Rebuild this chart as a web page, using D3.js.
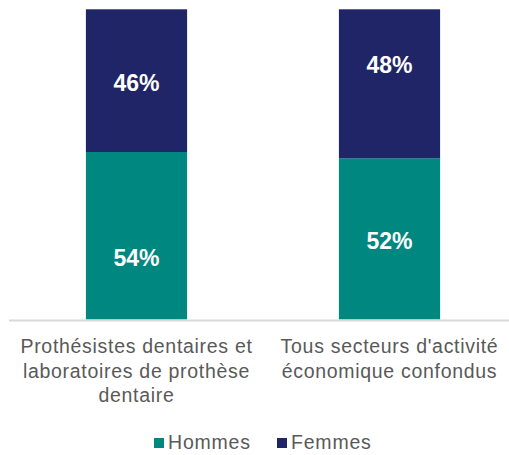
<!DOCTYPE html>
<html>
<head>
<meta charset="utf-8">
<script src="https://cdn.jsdelivr.net/npm/d3@7"></script>
<style>
  body { margin: 0; background: #fff; }
  svg { display: block; font-family: "Liberation Sans", Arial, sans-serif; }
</style>
</head>
<body>
<div id="chart"></div>
<script>
const categories = [
  ['Prothésistes dentaires et', 'laboratoires de prothèse', 'dentaire'],
  ["Tous secteurs d'activité", 'économique confondus']
];
const hommes = [54, 52];
const femmes = [46, 48];
const seriesNames = ['Hommes', 'Femmes'];
const colors = ['#00877f', '#1f2566'];

const width = 509;
const height = 455;

const svg = d3.select('#chart').append('svg')
  .attr('width', width)
  .attr('height', height);

const x = d3.scaleBand()
  .domain([0, 1])
  .range([10, 516])
  .paddingInner(0.6)
  .paddingOuter(0.3);

const y = d3.scaleLinear()
  .domain([0, 100])
  .range([319.5, 9.3]);

const rows = categories.map((c, i) => ({ i, Hommes: hommes[i], Femmes: femmes[i] }));
const stack = d3.stack().keys(seriesNames)(rows);

// label nudges (px) to follow the reference placement
const labelShift = [[22, 2], [2, -18.5]];

stack.forEach((layer, k) => {
  svg.selectAll('.seg' + k)
    .data(layer)
    .enter()
    .append('rect')
    .attr('x', (d) => x(d.data.i))
    .attr('width', x.bandwidth())
    .attr('y', (d) => y(d[1]))
    .attr('height', (d) => y(d[0]) - y(d[1]))
    .attr('fill', colors[k]);

  svg.selectAll('.lab' + k)
    .data(layer)
    .enter()
    .append('text')
    .attr('x', (d) => x(d.data.i) + x.bandwidth() / 2)
    .attr('y', (d) => (y(d[0]) + y(d[1])) / 2 + labelShift[d.data.i][k])
    .attr('dy', '0.35em')
    .attr('text-anchor', 'middle')
    .attr('fill', '#fff')
    .attr('font-weight', 'bold')
    .attr('font-size', 23)
    .text((d) => `${d[1] - d[0]}%`);
});

// baseline
svg.append('line')
  .attr('x1', 9)
  .attr('x2', 509)
  .attr('y1', 320.5)
  .attr('y2', 320.5)
  .attr('stroke', '#d9d9d9')
  .attr('stroke-width', 2);

// category labels
categories.forEach((lines, i) => {
  const t = svg.append('text')
    .attr('text-anchor', 'middle')
    .attr('fill', '#595959')
    .attr('font-size', 19.5)
    .attr('letter-spacing', 0.7);
  lines.forEach((line, j) => {
    t.append('tspan')
      .attr('x', x(i) + x.bandwidth() / 2)
      .attr('y', 353 + j * 24.5)
      .text(line);
  });
});

// legend
const legendX = [154, 277];
seriesNames.forEach((name, k) => {
  const g = svg.append('g').attr('transform', `translate(${legendX[k]},0)`);
  g.append('rect')
    .attr('x', 0)
    .attr('y', 438)
    .attr('width', 10)
    .attr('height', 10)
    .attr('fill', colors[k]);
  g.append('text')
    .attr('x', 14)
    .attr('y', 449)
    .attr('fill', '#595959')
    .attr('font-size', 19.5)
    .attr('letter-spacing', 0.8)
    .text(name);
});
</script>
</body>
</html>
